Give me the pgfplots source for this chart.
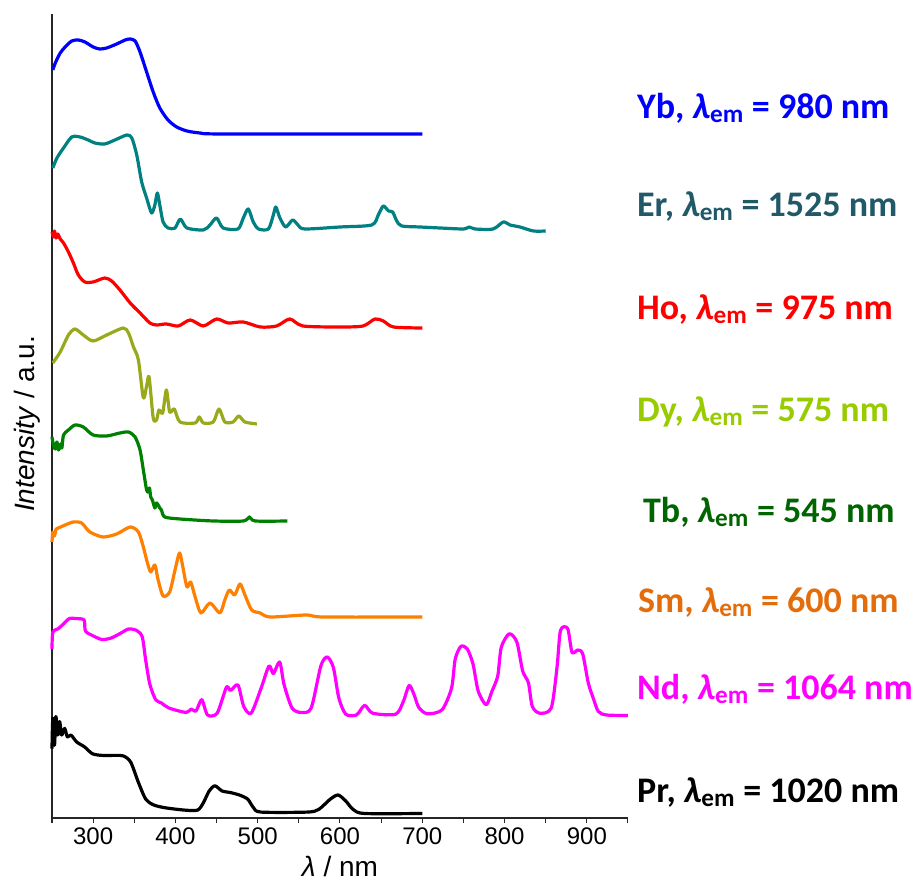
\documentclass[border=0pt]{standalone}
\usepackage{pgfplots}
\pgfplotsset{compat=1.18}
\usepackage{fontspec}
\setmainfont{Liberation Sans}
\newfontfamily\carlito{Carlito}
\definecolor{cYb}{RGB}{0,0,255}
\definecolor{cEr}{RGB}{0,128,128}
\definecolor{lEr}{RGB}{33,89,104}
\definecolor{cHo}{RGB}{255,0,0}
\definecolor{cDy}{RGB}{152,170,28}
\definecolor{lDy}{RGB}{153,204,0}
\definecolor{cTb}{RGB}{0,128,0}
\definecolor{lTb}{RGB}{0,100,0}
\definecolor{cSm}{RGB}{255,128,0}
\definecolor{lSm}{RGB}{228,108,10}
\definecolor{cNd}{RGB}{255,0,255}
\newcommand{\lab}[2]{{\carlito\bfseries #1, \textit{λ}\textsubscript{em} = #2 nm}}
\begin{document}
\begin{tikzpicture}
\path (-52pt,-64pt) (862pt,818pt);
\begin{axis}[
  at={(0pt,0pt)}, anchor=south west,
  width=576pt, height=804pt, scale only axis,
  xmin=250, xmax=950, ymin=0, ymax=804,
  axis x line*=bottom, axis y line*=left,
  axis line style={-, line width=1.4pt, draw=black!85},
  xtick={300,400,...,900},
  extra x ticks={250,350,...,950},
  extra x tick labels={},
  ytick=\empty,
  minor ytick={5.4,29.6,...,800},
  xtick align=outside, ytick align=inside,
  major tick length=5pt, minor tick length=3pt,
  every tick/.style={black!85, line width=1pt},
  /pgf/number format/assume math mode=true,
  /pgf/number format/1000 sep={},
  tick label style={font=\fontsize{24}{27}\selectfont},
  xticklabel style={yshift=-1pt},
  xlabel={\textit{λ} / nm},
  xlabel style={font=\fontsize{28}{30}\selectfont, at={(axis description cs:0.5,0)}, anchor=base, yshift=-59pt},
  ylabel={\textit{Intensity} / a.u.},
  ylabel style={font=\fontsize{28}{30}\selectfont, at={(axis description cs:-0.0434,0.49)}, anchor=center, rotate=0},
  clip=false,
  every axis plot/.append style={line width=3.2pt, smooth, tension=0.45, line join=round},
]
% Yb
\addplot[cYb] coordinates {(251,748)(254,755)(260,765)(266,771)(274,777)(282,778)(290,776)(300,771)(308,769)(316.5,770)(328.6,774)(339,778)(345,779)(351,777)(357,766)(365,746)(373,726)(381,710)(391,698)(401.5,691)(414,687)(430,685)(458,684)(700,684)};
% Er
\addplot[cEr] coordinates {(251,650)(256,660)(264,670)(274,681)(284,681)(294,678)(302,675)(314,674)(326.5,678)(341,683)(347,680)(353,663)(359,636)(365,620)(371,605)(375,613)(378,625)(381,613)(385,596)(391,590)(399.5,590)(406,599)(414,590)(434,588)(442,593)(450,600)(458,590)(476,589)(482.5,600)(488.5,609)(494.6,596)(501,589)(513,589)(519,603)(522,611)(527,600)(534,591)(542.5,598)(549,593)(557,589)(600,591)(638.5,593)(646.5,603)(652.6,612)(659,607)(664,606)(669,597)(675,592)(697,591)(721.5,590)(750,589)(757,591)(764,589)(786,589)(798.5,596)(806.6,593)(818.7,591)(835,587)(850,587)};
% Ho
\addplot[cHo] coordinates {(250,586)(252,581)(253,587)(255,580)(257,584)(260,579)(264,575)(270,566)(276,555)(282,543)(290,536)(300,536)(314,540)(322.5,537)(332.6,528)(345,515)(357,505)(369,495)(377,493)(389,494)(403.5,492)(418,498)(434,492)(450,499)(464,495)(482.5,496)(503,491)(523,492)(539,499)(555,492)(600,491)(628,492)(642.5,499)(652.6,497)(665,491)(700,490)};
% Dy
\addplot[cDy] coordinates {(251,455)(260,466)(270,483)(278,489)(288,483)(300,477)(316.5,483)(336.6,490)(343,485)(349,471)(355,458)(361,420)(365,432)(368,441)(373,400)(377,398)(380,408)(384.5,405)(389,428)(393,406)(398.6,409)(405.5,396)(424,395)(429,401)(434,395)(446,396)(453,409)(460,396)(470,396)(477,402)(484.5,396)(499,394)};
% Tb
\addplot[cTb] coordinates {(250,381)(252,372)(254,369)(256,376)(258,368)(260.5,374)(262,370)(264,383)(270,388)(278,393)(288,391)(300,383)(316.5,382)(332.6,385)(343,386)(351,381)(357,368)(361,348)(365,328)(367,326)(368.5,330)(370,321)(372,318)(375,310)(377,315)(379,313)(381,310)(383,308)(387,301)(405.5,299)(446,297)(482.5,297)(490,301)(497,297)(536,297)};
% Sm
\addplot[cSm] coordinates {(250,276)(251,286)(253,282)(255,289)(257.7,290)(266,293)(276,296)(286,295)(296,286)(312,281)(328.6,284)(345,291)(355,286)(361,271)(366,255)(370,246)(375,253)(379,238)(385,222)(393,226)(399.5,248)(405,265)(409,251)(414,231)(418.5,236)(424,221)(431,205)(442,215)(454,205)(460,218)(465.5,228)(472,223)(478.5,234)(484.5,223)(492.7,208)(503,205)(515,201)(559.5,203)(580,201)(700,201)};
% Nd
\addplot[cNd] coordinates {(250,169)(251,186)(257,189)(264,194)(271,199.4)(280,199.4)(289,198)(290.6,187)(299,182.5)(310.7,178.5)(322,180)(334,185)(343,189)(352.7,187.6)(359.7,181)(364,157)(369,133.5)(376,118.3)(383,115)(392,110)(413,105.5)(419,109)(425,107)(432,118.3)(439,103)(450.7,104.8)(462,130.8)(467,127.5)(476,133)(483,111.6)(492,104.8)(504,129.5)(513.7,152)(519,144.4)(526.7,156)(532,133.5)(541.7,110)(553,105.5)(565,110)(576.7,152)(584.5,161)(592,150.4)(598.6,120)(607,103.8)(620,103)(630,112.6)(639.7,104.8)(667.7,103.8)(677,116.6)(684,132.5)(690,123.4)(695.7,110.6)(706,104.2)(724,108.2)(735.6,130)(740,158.9)(747,171.7)(754.7,169)(761.7,153.8)(768,126.8)(777.7,113.3)(784.7,126.8)(791.7,142)(796,170.7)(805.7,184.2)(815,175.8)(822,147)(829,135.2)(833.7,111.6)(842.7,104.8)(856.7,110)(863.7,150.4)(868,187.6)(876.7,189.3)(882,165.6)(889,168)(895,164)(901.7,135.2)(907.7,120)(914,106.5)(924,103)(950,102.5)};
% Pr
\addplot[black] coordinates {(250,69.4)(251,100)(253,72.7)(254.7,101.4)(257,83)(259.3,96.4)(261.7,83)(265.4,89.6)(268.7,81)(273,83)(280,76)(289.7,71)(299,64.3)(310.7,62.6)(327,62.6)(337,62)(345.7,55.8)(355,35.6)(364,18.7)(373.7,13)(387.7,10.2)(411,7.9)(427,7.9)(434,15.3)(441,27)(448,32.2)(456.7,27)(467,25.4)(478.7,22.7)(488,18.7)(495,10.2)(504,5.9)(560,5.9)(574,8.5)(588,18.7)(597.7,23)(607,17)(616,8.5)(630,4.5)(700,4.5)};
% labels
\begin{scope}[every node/.style={anchor=base west, inner sep=0pt, font=\fontsize{36}{40}\selectfont}]
\node[text=cYb] at (axis cs:960.9,699.7) {\lab{Yb}{980}};
\node[text=lEr] at (axis cs:960.9,601.3) {\lab{Er}{1525}};
\node[text=cHo] at (axis cs:960.9,498) {\lab{Ho}{975}};
\node[text=lDy] at (axis cs:960.9,396.3) {\lab{Dy}{575}};
\node[text=lTb] at (axis cs:968.2,295) {\lab{Tb}{545}};
\node[text=lSm] at (axis cs:962,205) {\lab{Sm}{600}};
\node[text=cNd] at (axis cs:961,118) {\lab{Nd}{1064}};
\node[text=black] at (axis cs:961,15) {\lab{Pr}{1020}};
\end{scope}
\end{axis}
\end{tikzpicture}
\end{document}
